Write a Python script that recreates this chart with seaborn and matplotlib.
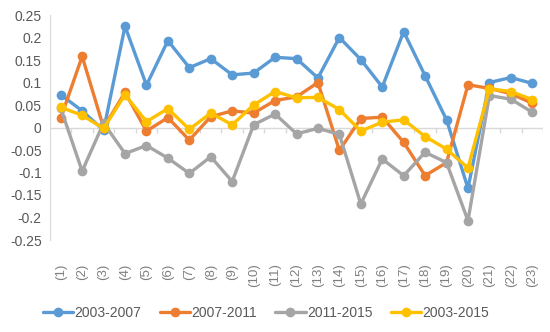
import pandas as pd
import numpy as np
import seaborn as sns
import matplotlib.pyplot as plt

labels = ['(%d)' % i for i in range(1, 24)]
series_names = ['2003-2007', '2007-2011', '2011-2015', '2003-2015']

s_2003_2007 = [0.073, 0.037, -0.006, 0.225, 0.094, 0.193, 0.133, 0.153, 0.117, 0.121, 0.156, 0.153,
               0.110, 0.200, 0.151, 0.090, 0.213, 0.115, 0.017, -0.135, 0.100, 0.111, 0.098]
s_2007_2011 = [0.021, 0.158, 0.000, 0.078, -0.008, 0.022, -0.028, 0.024, 0.037, 0.032, 0.060, 0.068,
               0.100, -0.051, 0.020, 0.023, -0.033, -0.107, -0.078, 0.095, 0.087, 0.075, 0.054]
s_2011_2015 = [0.043, -0.097, 0.010, -0.058, -0.040, -0.068, -0.102, -0.065, -0.120, 0.006, 0.030, -0.014,
               -0.002, -0.015, -0.170, -0.070, -0.107, -0.055, -0.078, -0.207, 0.071, 0.063, 0.034]
s_2003_2015 = [0.045, 0.027, -0.002, 0.073, 0.013, 0.042, -0.004, 0.032, 0.006, 0.050, 0.080, 0.066,
               0.067, 0.040, -0.008, 0.012, 0.017, -0.020, -0.048, -0.090, 0.086, 0.080, 0.062]

colors = ['#5B9BD5', '#ED7D31', '#A5A5A5', '#FFC000']

rows = []
for name, vals in zip(series_names, [s_2003_2007, s_2007_2011, s_2011_2015, s_2003_2015]):
    for i, v in enumerate(vals):
        rows.append({'idx': i, 'value': v, 'period': name})
df = pd.DataFrame(rows)

sns.set_style('white')
plt.rcParams['font.family'] = ['Liberation Sans', 'DejaVu Sans']

fig = plt.figure(figsize=(5.5, 3.32), dpi=100)
ax = fig.add_axes([50 / 550, 1 - 240 / 332, 493 / 550, 225 / 332])

sns.lineplot(data=df, x='idx', y='value', hue='period', palette=colors, marker='o',
             markersize=7, markeredgewidth=0, linewidth=2.4, ax=ax, legend=True)

ax.set_xlim(-0.5, 22.5)
ax.set_ylim(-0.25, 0.25)
ax.set_yticks(np.arange(-0.25, 0.26, 0.05))
ax.set_yticklabels(['-0.25', '-0.2', '-0.15', '-0.1', '-0.05', '0', '0.05', '0.1', '0.15', '0.2', '0.25'])
ax.set_xticks(range(23))
ax.set_xticklabels(labels, rotation=90)
ax.tick_params(axis='x', length=0, pad=17, labelsize=9.5, colors='#7F7F7F')
ax.tick_params(axis='y', length=0, pad=6, labelcolor='#595959', labelsize=10)
ax.set_xlabel('')
ax.set_ylabel('')

for side in ['top', 'right', 'bottom']:
    ax.spines[side].set_visible(False)
ax.spines['left'].set_color('#D9D9D9')

ax.axhline(0, color='#D9D9D9', linewidth=1, zorder=0)
ax.vlines(np.arange(0.5, 22.6, 1), -0.012, 0, color='#D9D9D9', linewidth=1, zorder=0)

handles, lbls = ax.get_legend_handles_labels()
ax.legend(handles, lbls, loc='center', bbox_to_anchor=((266 - 50) / 493, -(313 - 240) / 225),
          ncol=4, frameon=False, fontsize=10, labelcolor='#595959',
          handlelength=2.2, handletextpad=0.1, columnspacing=1.3)

fig.savefig('out.png', dpi=100)
